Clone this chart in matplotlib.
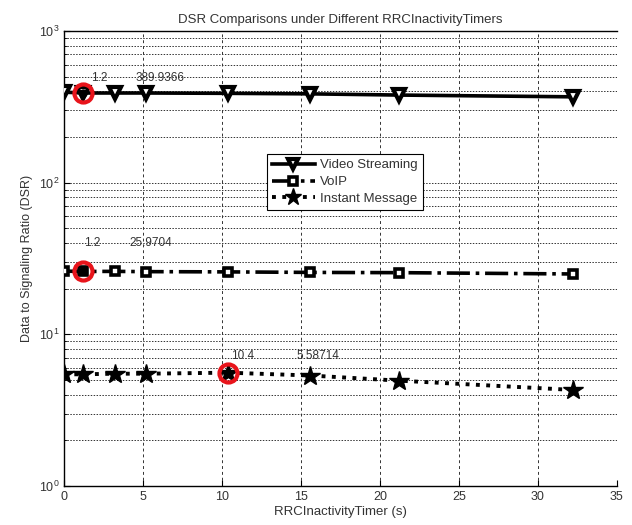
import numpy as np
import matplotlib
matplotlib.use("Agg")
import matplotlib.pyplot as plt

plt.rcParams['font.family'] = ['Liberation Sans', 'DejaVu Sans']

# donnees
timer = [0, 1.2, 3.2, 5.2, 10.4, 15.6, 21.2, 32.2]
video = [395, 389.9366, 390, 390, 388, 385, 378, 368]
voip = [26.1, 25.9704, 26.0, 25.9, 25.8, 25.6, 25.5, 25.0]
im = [5.45, 5.45, 5.5, 5.5, 5.58714, 5.35, 4.95, 4.3]

# points marques (curseur de donnees)
hl_x = [1.2, 1.2, 10.4]
hl_y = [389.9366, 25.9704, 5.58714]
hl_txt = [("1.2", "389.9366"), ("1.2", "25.9704"), ("10.4", "5.58714")]

fig = plt.figure(figsize=(6.32, 5.25), dpi=100)
ax = fig.add_axes([0.1013, 0.0743, 0.8747, 0.8667])

ax.plot(timer, video, '-', color='k', lw=2.6, marker='v', ms=8,
        mfc='white', mec='k', mew=3.0, label='Video Streaming', zorder=3)
ax.plot(timer, voip, '-.', color='k', lw=2.6, marker='s', ms=6,
        mfc='white', mec='k', mew=2.6, label='VoIP', zorder=3)
ax.plot(timer, im, ':', color='k', lw=2.8, marker='*', ms=15,
        mfc='k', mec='k', label='Instant Message', zorder=3)

ax.plot(hl_x, hl_y, 'o', ms=13, mfc='none', mec='#e8141b', mew=3, zorder=4)
ax.plot(hl_x, hl_y, 'o', ms=5, mfc='k', mec='k', zorder=5)

# textes des curseurs
offs = [(1.0, 4.9, 1.26), (0.6, 4.3, 1.55), (0.9, 5.7, 1.28)]
for (xx, yy), (dx1, dx2, fy), (t1, t2) in zip(zip(hl_x, hl_y), offs, hl_txt):
    ax.text(xx + dx1, yy * fy, t1, fontsize=8.5, color='#333', ha='center', va='center')
    ax.text(xx + dx2, yy * fy, t2, fontsize=8.5, color='#333', ha='center', va='center')

ax.set_yscale('log')
ax.set_xlim(0, 35)
ax.set_ylim(1, 1000)
ax.set_xticks(np.arange(0, 36, 5))
ax.set_yticks([1, 10, 100, 1000])

ax.grid(True, which='major', axis='x', linestyle=(0, (3, 3)), color='#333', lw=0.7)
ax.grid(True, which='both', axis='y', linestyle=(0, (1.5, 1.5)), color='#333', lw=0.7)
ax.tick_params(which='both', direction='in', labelsize=9, labelcolor='#333')
ax.tick_params(which='major', length=4)
ax.tick_params(which='minor', length=2)
ax.spines['right'].set_visible(False)
for s in ['left', 'bottom', 'top']:
    ax.spines[s].set_linewidth(1.0)

ax.set_title("DSR Comparisons under Different RRCInactivityTimers", fontsize=9.5, color='#333')
ax.set_xlabel("RRCInactivityTimer (s)", fontsize=9.5, color='#333', labelpad=2)
ax.set_ylabel("Data to Signaling Ratio (DSR)", fontsize=9, color='#333', labelpad=4)

leg = ax.legend(loc='center', bbox_to_anchor=(0.508, 0.668), fontsize=9.5,
                frameon=True, fancybox=False, edgecolor='k', framealpha=1,
                handlelength=3.2, borderpad=0.4, labelspacing=0.35, handletextpad=0.4,
                markerscale=0.85)
leg.get_frame().set_linewidth(0.8)
for t in leg.get_texts():
    t.set_color('#333')

fig.savefig("out.png", dpi=100)
